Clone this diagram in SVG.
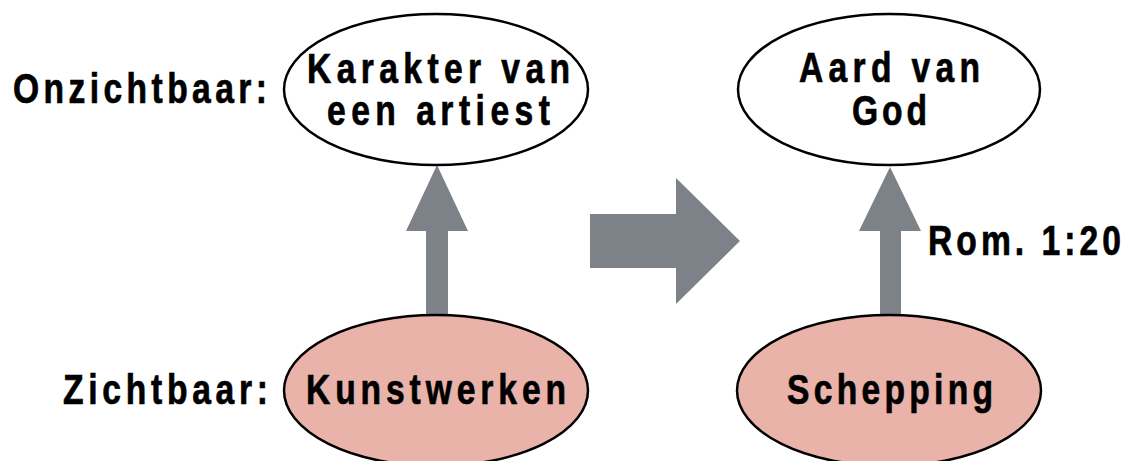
<svg xmlns="http://www.w3.org/2000/svg" width="1130" height="461" viewBox="0 0 1130 461">
  <style>
    .t { font-family: "Liberation Sans", "DejaVu Sans", sans-serif; font-weight: bold; font-size: 42px; fill: #000; stroke: #000; stroke-width: 0.7; }
    .top { fill: #ffffff; stroke: #000; stroke-width: 2.5; }
    .bot { fill: #e9b3aa; stroke: #000; stroke-width: 2.5; }
    .arr { fill: #7c8287; stroke: none; }
  </style>
  <rect width="1130" height="461" fill="#ffffff"/>
  <g id="connectors">
    <polygon class="arr" points="426,330 426,231 406,231 437,165 468,231 448,231 448,330"/>
    <polygon class="arr" points="880,330 880,231 859,231 890,167 921,231 901,231 901,330"/>
    <polygon id="transition" class="arr" points="590,214 676,214 676,178 740,241 676,304 676,268 590,268"/>
    <text class="t" transform="matrix(0.8 0 0 1 928 255)" x="0" y="0" textLength="241.25" lengthAdjust="spacing">Rom. 1:20</text>
  </g>
  <g id="label-onzichtbaar">
    <text class="t" transform="matrix(0.8 0 0 1 13 103)" x="0" y="0" textLength="317.5" lengthAdjust="spacing">Onzichtbaar:</text>
  </g>
  <g id="label-zichtbaar">
    <text class="t" transform="matrix(0.8 0 0 1 63 404)" x="0" y="0" textLength="256.25" lengthAdjust="spacing">Zichtbaar:</text>
  </g>
  <g id="node-karakter">
    <ellipse class="top" cx="436" cy="89.5" rx="152" ry="75.5"/>
    <text class="t" transform="matrix(0.8 0 0 1 307 83)" x="0" y="0" textLength="328.75" lengthAdjust="spacing">Karakter van</text>
    <text class="t" transform="matrix(0.8 0 0 1 327 125)" x="0" y="0" textLength="278.75" lengthAdjust="spacing">een artiest</text>
  </g>
  <g id="node-aard">
    <ellipse class="top" cx="889" cy="89.5" rx="151" ry="75.5"/>
    <text class="t" transform="matrix(0.8 0 0 1 799 82)" x="0" y="0" textLength="226.25" lengthAdjust="spacing">Aard van</text>
    <text class="t" transform="matrix(0.8 0 0 1 852 125)" x="0" y="0" textLength="93.75" lengthAdjust="spacing">God</text>
  </g>
  <g id="node-kunstwerken">
    <ellipse class="bot" cx="436" cy="390.5" rx="152" ry="75.5"/>
    <text class="t" transform="matrix(0.8 0 0 1 306 404)" x="0" y="0" textLength="325" lengthAdjust="spacing">Kunstwerken</text>
  </g>
  <g id="node-schepping">
    <ellipse class="bot" cx="889" cy="390.5" rx="152" ry="75.5"/>
    <text class="t" transform="matrix(0.8 0 0 1 787 404)" x="0" y="0" textLength="257.5" lengthAdjust="spacing">Schepping</text>
  </g>
</svg>
